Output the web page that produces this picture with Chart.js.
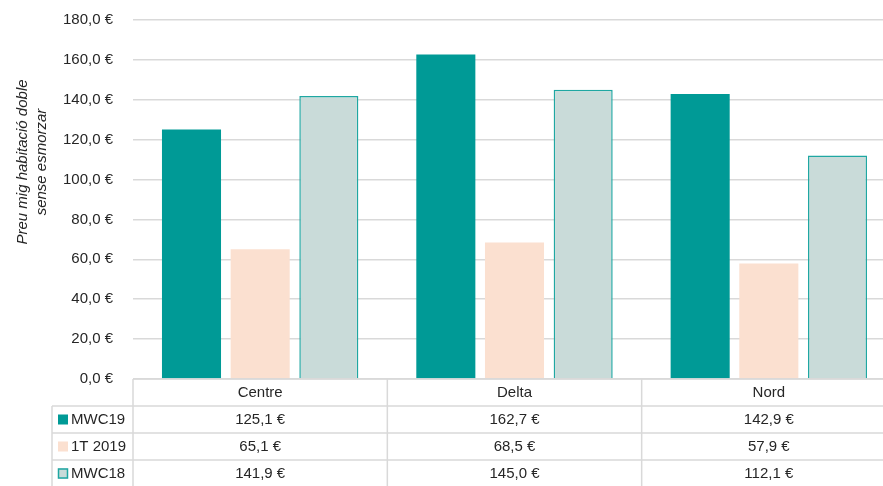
<!DOCTYPE html>
<html>
<head>
<meta charset="utf-8">
<script src="https://cdn.jsdelivr.net/npm/chart.js@4/dist/chart.umd.min.js"></script>
<style>
    html, body { margin: 0; padding: 0; background: #fff; }
    #wrap { width: 883px; height: 486px; position: relative; }
</style>
</head>
<body>
<div id="wrap"><canvas id="chart" width="883" height="486"></canvas></div>
<script>
// ---------------------------
// Data
// ---------------------------
const categories = ['Centre', 'Delta', 'Nord'];
const seriesNames = ['MWC19', '1T 2019', 'MWC18'];
const mwc19 = [125.1, 162.7, 142.9];
const t1_2019 = [65.1, 68.5, 57.9];
const mwc18 = [141.9, 145.0, 112.1];
const yTitle = ['Preu mig habitació doble', 'sense esmorzar'];

const FONT = '"Liberation Sans", Arial, sans-serif';
const FS = 15;
const TEXT = '#262626';
const LINE = '#d9d9d9';

const fill = ['#009a96', '#fbe0d0', '#c9dbd9'];
const border = ['#009a96', '#fbe0d0', '#1fa7a2'];

const fmt = v => v.toFixed(1).replace('.', ',') + ' €';

// table rows under the plot
const ROW_TOP = 379;
const ROW_H = 27;
// plot box: top edge, and right edge a bit past the picture
const PLOT_TOP = 20;
const PLOT_RIGHT = 896;

// ---------------------------
// Plugin: fix the plot box
// ---------------------------
const boxPlugin = {
    id: 'plotBox',
    afterLayout(chart) {
        const { x, y } = chart.scales;
        const area = chart.chartArea;
        area.right = PLOT_RIGHT;
        area.top = PLOT_TOP;
        area.width = area.right - area.left;
        area.height = area.bottom - area.top;
        x.right = PLOT_RIGHT;
        x.width = PLOT_RIGHT - x.left;
        x.configure();
        y.top = PLOT_TOP;
        y.height = y.bottom - y.top;
        y.configure();
    }
};

// ---------------------------
// Plugin: axis title + data table
// ---------------------------
const tablePlugin = {
    id: 'dataTable',
    afterDraw(chart) {
        const ctx = chart.ctx;
        const x = chart.scales.x;
        const half = (x.getPixelForValue(1) - x.getPixelForValue(0)) / 2;
        const right = chart.width;
        const series = chart.data.datasets;

        ctx.save();
        // y axis title
        ctx.font = 'italic ' + FS + 'px ' + FONT;
        ctx.fillStyle = TEXT;
        ctx.textAlign = 'center';
        ctx.textBaseline = 'middle';
        [23, 42].forEach((cx, i) => {
            ctx.save();
            ctx.translate(cx, 162);
            ctx.rotate(-Math.PI / 2);
            ctx.fillText(yTitle[i], 0, 0);
            ctx.restore();
        });

        // grid lines of the table
        ctx.strokeStyle = LINE;
        ctx.lineWidth = 1.5;
        const left0 = x.getPixelForValue(0) - half;
        ctx.beginPath();
        ctx.moveTo(left0, ROW_TOP); ctx.lineTo(right, ROW_TOP);
        for (let r = 1; r <= 3; r++) {
            const ly = ROW_TOP + r * ROW_H;
            ctx.moveTo(52, ly); ctx.lineTo(right, ly);
        }
        ctx.moveTo(52, ROW_TOP + ROW_H); ctx.lineTo(52, chart.height);
        categories.forEach((c, i) => {
            const bx = x.getPixelForValue(i) - half;
            ctx.moveTo(bx, ROW_TOP); ctx.lineTo(bx, chart.height);
        });
        ctx.stroke();

        // header + values
        ctx.font = FS + 'px ' + FONT;
        ctx.fillStyle = TEXT;
        categories.forEach((c, i) => {
            const cx = x.getPixelForValue(i);
            ctx.fillText(c, cx, ROW_TOP + ROW_H / 2);
            series.forEach((ds, s) => {
                ctx.fillText(fmt(ds.data[i]), cx, ROW_TOP + (s + 1.5) * ROW_H);
            });
        });

        // legend keys
        ctx.textAlign = 'left';
        series.forEach((ds, s) => {
            const cy = ROW_TOP + (s + 1.5) * ROW_H;
            ctx.fillStyle = ds.backgroundColor;
            ctx.fillRect(58, cy - 5, 10, 10);
            if (s === 2) {
                ctx.strokeStyle = ds.borderColor;
                ctx.lineWidth = 1.5;
                ctx.strokeRect(58.5, cy - 4.5, 9, 9);
            }
            ctx.fillStyle = TEXT;
            ctx.fillText(ds.label, 71, cy);
        });
        ctx.restore();
    }
};

new Chart(document.getElementById('chart'), {
    type: 'bar',
    data: {
        labels: categories,
        datasets: [mwc19, t1_2019, mwc18].map((d, i) => ({
            label: seriesNames[i],
            data: d,
            backgroundColor: fill[i],
            borderColor: border[i],
            borderWidth: i === 2 ? 1.5 : 0,
            categoryPercentage: 0.81,
            barPercentage: 0.86
        }))
    },
    options: {
        responsive: false,
        animation: false,
        layout: { padding: { top: 12, bottom: 107, left: 0, right: 0 } },
        plugins: {
            legend: { display: false },
            tooltip: { enabled: false }
        },
        scales: {
            x: { display: false },
            y: {
                min: 0,
                max: 180,
                afterFit(scale) { scale.width = 133; },
                border: { display: false },
                grid: { color: LINE, lineWidth: 1.5, tickLength: 0 },
                ticks: {
                    stepSize: 20,
                    padding: 20,
                    color: TEXT,
                    font: { family: FONT, size: FS },
                    callback: v => fmt(v)
                }
            }
        }
    },
    plugins: [boxPlugin, tablePlugin]
});
</script>
</body>
</html>
